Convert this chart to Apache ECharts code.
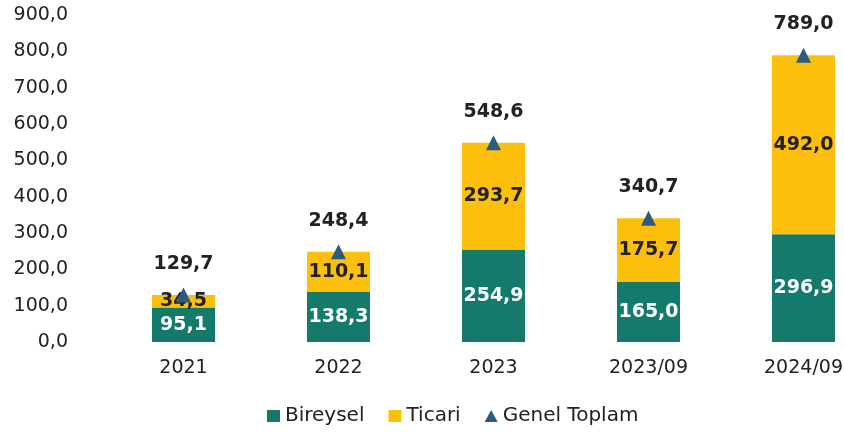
<!DOCTYPE html>
<html>
<head>
<meta charset="utf-8">
<script src="https://cdn.jsdelivr.net/npm/echarts@6/dist/echarts.min.js"></script>
<style>
  html, body { margin: 0; padding: 0; background: #fff; }
  #chart { width: 844px; height: 437px; }
</style>
</head>
<body>
<div id="chart"></div>
<script>
const categories = ['2021', '2022', '2023', '2023/09', '2024/09']
const bireysel = [95.1, 138.3, 254.9, 165.0, 296.9]
const ticari = [34.5, 110.1, 293.7, 175.7, 492.0]
const genelToplam = [129.7, 248.4, 548.6, 340.7, 789.0]

const fmt = v => v.toFixed(1).replace('.', ',')
const font = 'DejaVu Sans, Liberation Sans, sans-serif'

const chart = echarts.init(document.getElementById('chart'))
chart.setOption({
  animation: false,
  textStyle: { fontFamily: font },
  grid: { left: 106, right: -37, top: 15, bottom: 95, outerBoundsMode: 'none' },
  legend: {
    bottom: 6,
    left: 262,
    itemWidth: 13,
    itemHeight: 12,
    itemGap: 24,
    textStyle: { fontSize: 20, color: '#222', fontFamily: font },
    data: [
      { name: 'Bireysel', icon: 'rect' },
      { name: 'Ticari', icon: 'rect' },
      { name: 'Genel Toplam', icon: 'triangle' },
    ],
  },
  xAxis: {
    type: 'category',
    data: categories,
    axisLine: { show: false },
    axisTick: { show: false },
    axisLabel: { fontSize: 19, color: '#222', margin: 17 },
  },
  yAxis: {
    type: 'value',
    min: 0,
    max: 900,
    interval: 100,
    splitLine: { show: false },
    axisLabel: { fontSize: 19, color: '#222', margin: 38, formatter: fmt },
  },
  series: [
    {
      name: 'Bireysel',
      type: 'bar',
      stack: 'total',
      barWidth: 63,
      data: bireysel,
      itemStyle: { color: '#137a6c' },
      label: {
        show: true,
        position: 'inside',
        color: '#fff',
        fontSize: 19,
        fontWeight: 'bold',
        formatter: p => fmt(p.value),
      },
    },
    {
      name: 'Ticari',
      type: 'bar',
      stack: 'total',
      data: ticari,
      itemStyle: { color: '#fcc00c' },
      label: {
        show: true,
        position: 'inside',
        color: '#222',
        fontSize: 19,
        fontWeight: 'bold',
        formatter: p => fmt(p.value),
      },
    },
    {
      name: 'Genel Toplam',
      type: 'line',
      data: genelToplam,
      symbol: 'triangle',
      symbolSize: 15,
      lineStyle: { opacity: 0 },
      itemStyle: { color: '#2b5b80' },
      z: 5,
      label: {
        show: true,
        position: 'top',
        distance: 14,
        color: '#222',
        fontSize: 19,
        fontWeight: 'bold',
        formatter: p => fmt(p.value),
      },
    },
  ],
})
</script>
</body>
</html>
